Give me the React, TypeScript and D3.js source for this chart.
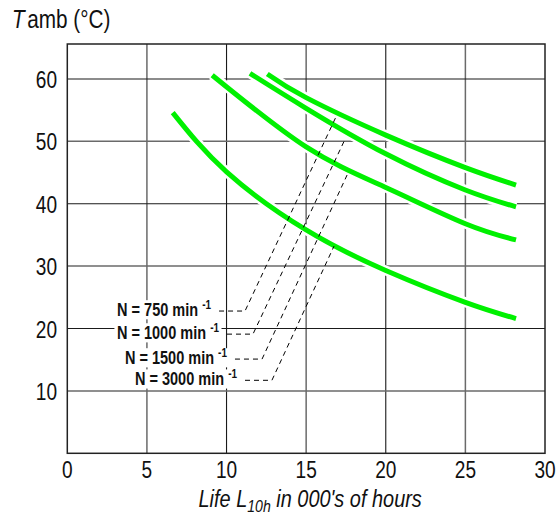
import React, { useEffect, useRef } from "react";
import * as d3 from "d3";

const xTicks = [0, 5, 10, 15, 20, 25, 30];
const yTicks = [10, 20, 30, 40, 50, 60];
const speeds = ["750", "1000", "1500", "3000"];

const curve750: [number, number][] = [[12.56, 60.8], [15, 57.0], [20, 51.0], [25, 45.8], [28.18, 43.0]];
const curve1000: [number, number][] = [[11.47, 60.9], [15, 55.3], [20, 48.0], [25, 42.2], [28.18, 39.5]];
const curve1500: [number, number][] = [[9.1, 60.6], [15, 49.1], [20, 42.6], [25, 36.8], [28.18, 34.2]];
const curve3000: [number, number][] = [[6.62, 54.6], [10, 45.1], [15, 35.8], [20, 29.3], [25, 24.2], [28.18, 21.6]];

const leaderStartX = [9.53, 10.03, 10.53, 11.16];
const leaderBendX = [11.16, 11.66, 12.23, 12.85];
const leaderY = [22.8, 19.1, 15.1, 11.7];
const leaderTopX = [16.87, 17.38, 17.57, 16.75];
const leaderTopY = [53.9, 50.0, 44.6, 33.2];

const FONT = "'Liberation Sans', Arial, sans-serif";
const NARROW = 0.83;

export default function App() {
  const ref = useRef<SVGSVGElement>(null);

  useEffect(() => {
    const svg = d3.select(ref.current);
    svg.selectAll("*").remove();

    const x = d3.scaleLinear().domain([0, 30]).range([67.3, 545]);
    const y = d3.scaleLinear().domain([0, 65.6]).range([453.3, 44]);

    const g = svg.append("g");

    const txt = (px: number, py: number, sx = NARROW) =>
      g.append("g").attr("transform", `translate(${px},${py}) scale(${sx},1)`);

    // gridlines
    xTicks.slice(1, -1).forEach((v) => {
      const dark = v % 10 === 0;
      g.append("line")
        .attr("x1", x(v)).attr("x2", x(v))
        .attr("y1", y(0)).attr("y2", y(65.6))
        .attr("stroke", dark ? "#1a1a1a" : "#6a6a6a")
        .attr("stroke-width", dark ? 1.1 : 1.5);
    });
    yTicks.forEach((v) => {
      const dark = v % 20 === 0;
      g.append("line")
        .attr("x1", x(0)).attr("x2", x(30))
        .attr("y1", y(v)).attr("y2", y(v))
        .attr("stroke", dark ? "#1a1a1a" : "#6a6a6a")
        .attr("stroke-width", dark ? 1.1 : 1.5);
    });

    // frame
    g.append("rect")
      .attr("x", x(0)).attr("y", y(65.6))
      .attr("width", x(30) - x(0)).attr("height", y(0) - y(65.6))
      .attr("fill", "none").attr("stroke", "#222").attr("stroke-width", 1.5);

    // curves
    const line = d3.line<[number, number]>()
      .x((d) => x(d[0])).y((d) => y(d[1]))
      .curve(d3.curveNatural);
    const curves = [curve750, curve1000, curve1500, curve3000];
    curves.forEach((c) => {
      g.append("path").attr("d", line(c)).attr("fill", "none")
        .attr("stroke", "#fff").attr("stroke-width", 10);
    });
    curves.forEach((c) => {
      g.append("path").attr("d", line(c)).attr("fill", "none")
        .attr("stroke", "#00f000").attr("stroke-width", 5);
    });

    // leaders
    speeds.forEach((s, i) => {
      const pts: [number, number][] = [
        [leaderStartX[i], leaderY[i]],
        [leaderBendX[i], leaderY[i]],
        [leaderTopX[i], leaderTopY[i]],
      ];
      g.append("path")
        .attr("d", d3.line<[number, number]>().x((d) => x(d[0])).y((d) => y(d[1]))(pts))
        .attr("fill", "none").attr("stroke", "#000").attr("stroke-width", 1)
        .attr("stroke-dasharray", "5,4");
    });

    // labels
    speeds.forEach((s, i) => {
      const lg = txt(x(leaderStartX[i]) - 8, y(leaderY[i]) + 5);
      const rect = lg.append("rect").attr("fill", "#fff");
      const t = lg.append("text")
        .attr("text-anchor", "end")
        .attr("font-family", FONT)
        .attr("font-weight", "bold")
        .attr("font-size", 17.5)
        .attr("fill", "#111");
      t.append("tspan").text(`N = ${s} min `);
      t.append("tspan").attr("font-size", 12).attr("dy", -7).text("-1");
      const bb = (t.node() as SVGTextElement).getBBox();
      rect.attr("x", bb.x - 3).attr("y", bb.y + 2).attr("width", bb.width + 6).attr("height", bb.height - 2);
    });

    // tick labels
    yTicks.forEach((v) => {
      txt(57, y(v) + 9).append("text")
        .attr("text-anchor", "end").attr("font-family", FONT)
        .attr("font-size", 23).attr("fill", "#111").text(String(v));
    });
    xTicks.forEach((v) => {
      txt(x(v), 478).append("text")
        .attr("text-anchor", "middle").attr("font-family", FONT)
        .attr("font-size", 23).attr("fill", "#111").text(String(v));
    });

    // axis titles
    const yt = txt(12, 28).append("text")
      .attr("font-family", FONT).attr("font-size", 25).attr("fill", "#111");
    yt.append("tspan").attr("font-style", "italic").text("T");
    yt.append("tspan").attr("dx", 3).text("amb (°C)");

    const xt = txt((x(0) + x(30)) / 2 + 4, 507).append("text")
      .attr("text-anchor", "middle").attr("font-family", FONT)
      .attr("font-style", "italic").attr("font-size", 24).attr("fill", "#111");
    xt.append("tspan").text("Life L");
    xt.append("tspan").attr("font-size", 17).attr("dy", 5).text("10h");
    xt.append("tspan").attr("dy", -5).text(" in 000's of hours");
  }, []);

  return (
    <svg
      ref={ref}
      width={560}
      height={517}
      style={{ position: "absolute", left: 0, top: 0, background: "#fff" }}
    />
  );
}
